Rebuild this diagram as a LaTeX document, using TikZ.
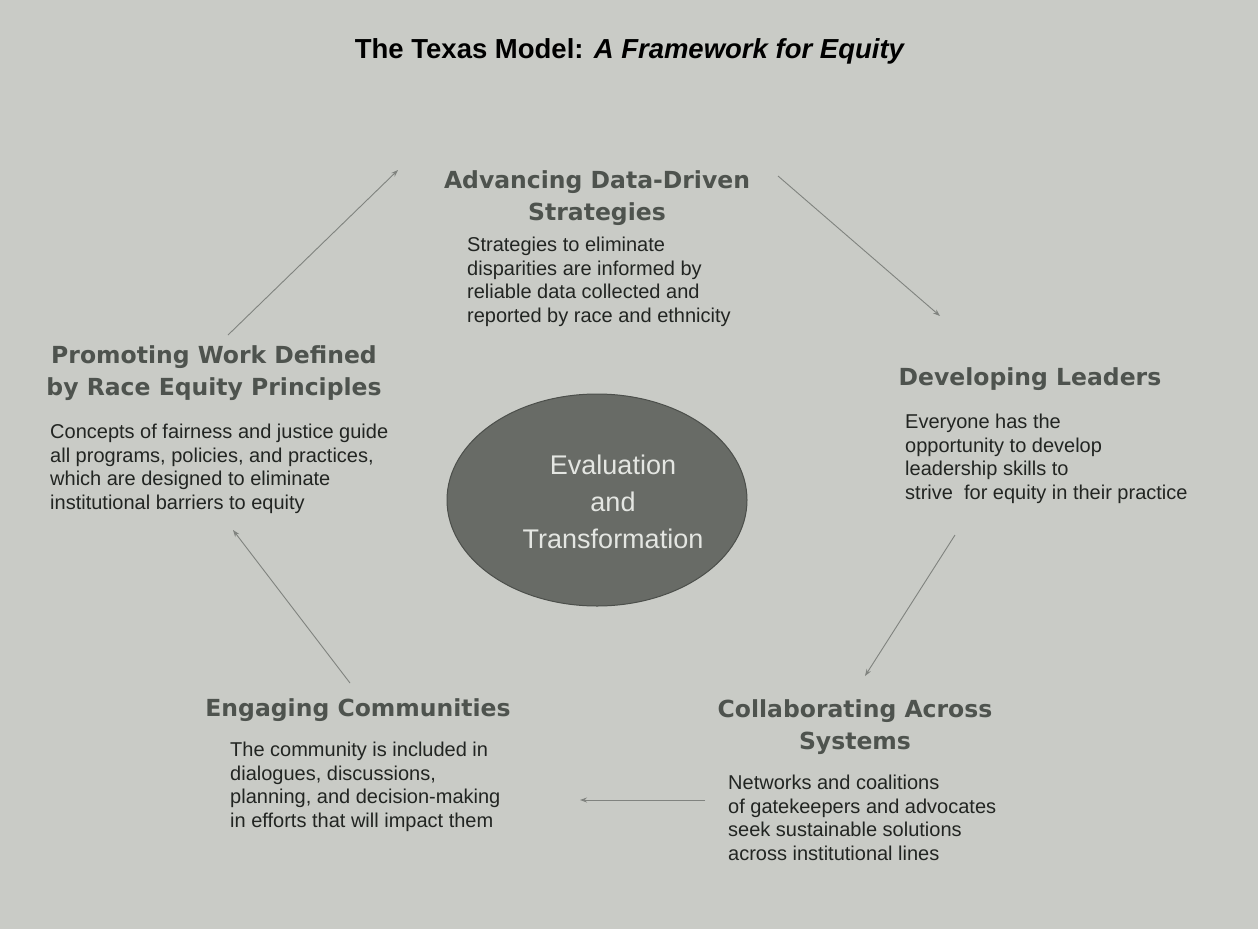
\documentclass[tikz,border=0pt]{standalone}
\usepackage{fontspec}
\setmainfont{Liberation Sans}
\newfontfamily\headfont{DejaVu Sans}
\usetikzlibrary{arrows.meta,shapes.geometric}
\definecolor{bg}{RGB}{201,203,198}
\definecolor{headgray}{RGB}{78,83,78}
\definecolor{bodyink}{RGB}{34,37,34}
\definecolor{ellfill}{RGB}{104,107,102}
\definecolor{ellline}{RGB}{76,79,75}
\definecolor{elltext}{RGB}{228,230,226}
\definecolor{arrowgray}{RGB}{128,131,127}
\tikzset{
  heading/.style={font=\headfont\bfseries\fontsize{23.5}{32}\selectfont, text=headgray, align=center, inner sep=0pt},
  bodytext/.style={font=\fontsize{20}{23.5}\selectfont, text=bodyink, align=left, inner sep=0pt, anchor=north west},
  flowarrow/.style={draw=arrowgray, line width=0.9pt, -{Stealth[length=7pt,width=5pt]}},
}
\begin{document}
\begin{tikzpicture}[x=1pt,y=-1pt]
\fill[bg] (0,0) rectangle (1258,929);
\useasboundingbox (0,0) rectangle (1258,929);

\node[font=\bfseries\fontsize{27.5}{32}\selectfont, inner sep=0pt] (title) at (630,51) {The Texas Model: \textit{A Framework for Equity}};

\node[ellipse, fill=ellfill, draw=ellline, line width=1pt, minimum width=300pt, minimum height=212pt] (center) at (597,500) {};
\node[font=\fontsize{27}{37}\selectfont, text=elltext, align=center, inner sep=0pt] (centertext) at (613,502) {Evaluation\\and\\Transformation};

\node[heading] (advh) at (597,198) {Advancing Data-Driven\\Strategies};
\node[bodytext] (advb) at (467,237) {Strategies to eliminate\\disparities are informed by\\reliable data collected and\\reported by race and ethnicity};

\node[heading] (devh) at (1030,379) {Developing Leaders};
\node[bodytext] (devb) at (905,414) {Everyone has the\\opportunity to develop\\leadership skills to\\strive\ \ for equity in their practice};

\node[heading] (colh) at (855,727) {Collaborating Across\\Systems};
\node[bodytext] (colb) at (728,775) {Networks and coalitions\\of gatekeepers and advocates\\seek sustainable solutions\\across institutional lines};

\node[heading] (engh) at (358,710) {Engaging Communities};
\node[bodytext] (engb) at (230,742) {The community is included in\\dialogues, discussions,\\planning, and decision-making\\in efforts that will impact them};

\node[heading] (proh) at (214,373) {Promoting Work Defined\\by Race Equity Principles};
\node[bodytext] (prob) at (50,424) {Concepts of fairness and justice guide\\all programs, policies, and practices,\\which are designed to eliminate\\institutional barriers to equity};

\coordinate (a1s) at (228,335);
\coordinate (a1e) at (398,170);
\coordinate (a2s) at (778,176);
\coordinate (a2e) at (940,316);
\coordinate (a3s) at (955,535);
\coordinate (a3e) at (865,676);
\coordinate (a4s) at (705,800);
\coordinate (a4e) at (580,800);
\coordinate (a5s) at (350,683);
\coordinate (a5e) at (233,530);

\draw[flowarrow] (a1s) -- (a1e);
\draw[flowarrow] (a2s) -- (a2e);
\draw[flowarrow] (a3s) -- (a3e);
\draw[flowarrow] (a4s) -- (a4e);
\draw[flowarrow] (a5s) -- (a5e);
\end{tikzpicture}
\end{document}
